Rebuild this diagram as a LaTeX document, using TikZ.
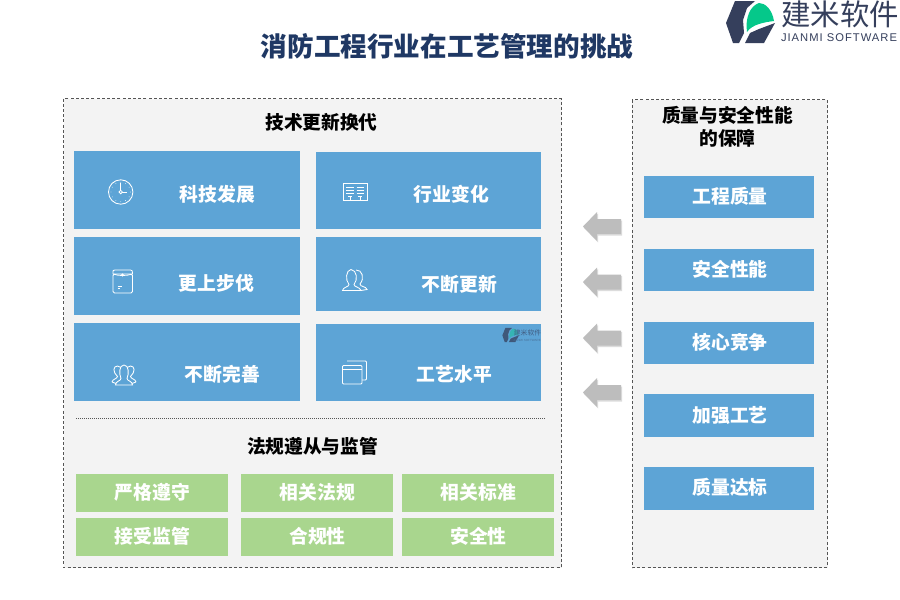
\documentclass[tikz,border=0pt]{standalone}
\usepackage{fontspec}
\setmainfont{Noto Sans CJK SC}
\newfontfamily\latinfont[LetterSpace=9]{Liberation Sans}
\newfontfamily\latinplain{Liberation Sans}
\usetikzlibrary{calc}
\definecolor{panelbg}{HTML}{F3F3F3}
\definecolor{boxblue}{HTML}{5DA4D6}
\definecolor{boxgreen}{HTML}{A9D68E}
\definecolor{titlenavy}{HTML}{1F3864}
\definecolor{logonavy}{HTML}{353F5C}
\definecolor{logogreen}{HTML}{05C88A}
\definecolor{arrowgray}{HTML}{BDBDBD}
\definecolor{arrowshade}{HTML}{DCDCDC}
\definecolor{dashgray}{HTML}{555555}
\tikzset{
  x=1pt,y=-1pt,
  panel/.style={draw=dashgray,dashed,fill=panelbg,line width=0.7pt,dash pattern=on 3pt off 2.2pt},
  card/.style={fill=boxblue,draw=none},
  greencard/.style={fill=boxgreen,draw=none},
  boxlabel/.style={text=white,font=\fontsize{18.8}{20}\selectfont\bfseries,inner sep=0pt,anchor=center},
  headlabel/.style={text=black,font=\fontsize{18.7}{23}\selectfont\bfseries,inner sep=0pt,align=center},
  icon/.style={draw=white,line width=0.85pt,fill=none},
  iconthin/.style={draw=white,line width=0.6pt,fill=none},
}
\newcommand{\leftarrowshape}[2]{%
  \fill[#1] (583,#2) -- (597,#2-14.5) -- (597,#2-7.5) -- (621,#2-7.5) -- (621,#2+7.5) -- (597,#2+7.5) -- (597,#2+14.5) -- cycle;}
\newcommand{\logomark}[3]{%
  \begin{scope}[shift={(#1,#2)},scale=#3]
  \fill[\logoA] (4,23) -- (13,1) -- (33,1) -- (25,8) -- (21,20) -- (22,33) -- (17,43) -- (11,43) -- cycle;
  \fill[\logoA] (23,43) -- (28,33) -- (37,29) -- (53,23) -- (42,43) -- cycle;
  \fill[\logoB] (25,32) .. controls (23,18) and (28,6) .. (37,3) .. controls (43,3) and (50,9) .. (52,21) .. controls (44,22) and (30,24) .. (25,32) -- cycle;
  \end{scope}}
\begin{document}
\begin{tikzpicture}
\useasboundingbox (0,0) rectangle (900,600);
\fill[white] (0,0) rectangle (900,600);
% title
\node[text=titlenavy,font=\fontsize{26.6}{28}\selectfont\bfseries,inner sep=0pt] (title) at (447,46) {消防工程行业在工艺管理的挑战};
% logo
\def\logoA{logonavy}\def\logoB{logogreen}
\logomark{722}{0}{1}
\node[text=logonavy,font=\fontsize{29.4}{30}\selectfont,inner sep=0pt] (logocn) at (840,14) {建米软件};
\node[text=logonavy,font=\latinfont\fontsize{11.2}{12}\selectfont,inner sep=0pt] (logoen) at (839,38) {JIANMI SOFTWARE};
% panels
\draw[panel] (63.5,98.5) rectangle (561.5,567.5);
\draw[panel] (632,99.5) rectangle (827.5,567.5);
\node[headlabel] (head1) at (321.5,122) {技术更新换代};
\node[headlabel] (head2) at (312.5,446) {法规遵从与监管};
\node[headlabel] (head3) at (727.5,127) {质量与安全性能\\的保障};
% blue cards
\fill[card] (74,151) rectangle (300,228.5);
\fill[card] (316,152) rectangle (541,229);
\fill[card] (74,237) rectangle (300,315);
\fill[card] (316,237) rectangle (541,311);
\fill[card] (74,323) rectangle (300,401);
\fill[card] (316,324) rectangle (541,401);
\node[boxlabel] (l1) at (217.5,194) {科技发展};
\node[boxlabel] (l2) at (451.5,194) {行业变化};
\node[boxlabel] (l3) at (216.5,283.5) {更上步伐};
\node[boxlabel] (l4) at (459.5,284) {不断更新};
\node[boxlabel] (l5) at (222.5,374) {不断完善};
\node[boxlabel] (l6) at (454.5,374) {工艺水平};
% clock icon
\draw[icon] (120.7,192) circle (12.2);
\draw[icon] (120.7,192) circle (1.7);
\draw[icon] (120.7,190) -- (120.7,182.5);
\draw[icon] (122.4,192) -- (127,192);
\foreach \a in {0,30,...,330}{\fill[white] ($(120.7,192)+(\a:9.7)$) circle (0.4);}
% envelope icon
\draw[icon,rounded corners=1.5pt] (113,274) rectangle (132.5,293);
\draw[icon] (113,274) .. controls (113,270) and (113,270) .. (115,270) -- (130.5,270) .. controls (132.5,270) and (132.5,271) .. (132.5,274) .. controls (126,276) and (119,276) .. (113,274);
\draw[icon] (122.5,275) circle (1);
\draw[iconthin] (117.5,286) -- (121.5,286) (117.5,288.5) -- (120,288.5);
% board icon
\draw[icon] (343,183.5) rectangle (367,200.5);
\draw[iconthin] (346,187) -- (353.5,187) (346,190) -- (353.5,190) (346,193) -- (353.5,193) (356.5,187) -- (364,187) (356.5,190) -- (364,190) (356.5,193) -- (364,193);
\draw[iconthin] (350,196.5) -- (350,200) (360,196.5) -- (360,200) (348,196.5) -- (352,196.5) (358,196.5) -- (362,196.5);
% two people icon
\draw[icon] (356,270) .. controls (362,269.5) and (365,278) .. (360,284) .. controls (360,287) and (366,286) .. (367,289.5) -- (361,290.5);
\draw[icon,fill=boxblue] (342.5,290.5) .. controls (343,287) and (349,287) .. (349,284.5) .. controls (345,280) and (346,270) .. (351,269.5) .. controls (357,270) and (358,280) .. (354,284.5) .. controls (354,287) and (360,287) .. (361,290.5) -- cycle;
% three people icon
\draw[icon] (112,382) .. controls (112.5,379) and (117,379) .. (117.5,376.5) .. controls (112.5,372) and (113,366) .. (117.5,366) .. controls (119,366) and (120,366.5) .. (121,367.5);
\draw[icon] (136,382) .. controls (135.5,379) and (131,379) .. (130.5,376.5) .. controls (135.5,372) and (135,366) .. (130.5,366) .. controls (129,366) and (128,366.5) .. (127,367.5);
\draw[icon] (112,382) -- (116,383.5) (136,382) -- (132,383.5);
\draw[icon,fill=boxblue] (115.5,385) .. controls (115.5,381) and (121,381) .. (121,378.5) .. controls (119,374) and (119,365) .. (124,365) .. controls (129,365) and (129,374) .. (127,378.5) .. controls (127,381) and (132.5,381) .. (132.5,385) -- cycle;
% windows icon
\draw[icon,rounded corners=1pt] (347,361) -- (366.5,361) -- (366.5,380) -- (362,380);
\draw[icon,rounded corners=1pt] (342.5,365.5) rectangle (362,384);
\draw[iconthin] (342.5,369.5) -- (362,369.5);
% watermark
\def\logoA{logonavy!75!boxblue}\def\logoB{logogreen!45!boxblue}
\logomark{501}{327.5}{0.34}
\node[text=logonavy!70!boxblue,font=\fontsize{6.8}{8}\selectfont,inner sep=0pt] (wmcn) at (527.5,333) {建米软件};
\node[text=logonavy!50!boxblue,font=\latinplain\fontsize{3}{3}\selectfont,inner sep=0pt] (wmen) at (527,340.5) {JIANMI SOFTWARE};
% dotted divider
\draw[dashgray,line width=0.7pt,dash pattern=on 1pt off 1pt] (76,418.5) -- (545,418.5);
% green cards
\fill[greencard] (76,474) rectangle (228,512);
\fill[greencard] (241,474) rectangle (393,512);
\fill[greencard] (402,474) rectangle (554,512);
\fill[greencard] (76,518) rectangle (228,556);
\fill[greencard] (241,518) rectangle (393,556);
\fill[greencard] (402,518) rectangle (554,556);
\node[boxlabel] (g1) at (152.5,492) {严格遵守};
\node[boxlabel] (g2) at (317.5,492) {相关法规};
\node[boxlabel] (g3) at (478.5,492) {相关标准};
\node[boxlabel] (g4) at (152.5,536) {接受监管};
\node[boxlabel] (g5) at (317.5,536) {合规性};
\node[boxlabel] (g6) at (478.5,536) {安全性};
% right cards
\fill[card] (644,176) rectangle (814,218);
\fill[card] (644,249) rectangle (814,291);
\fill[card] (644,322) rectangle (814,364);
\fill[card] (644,394) rectangle (814,437);
\fill[card] (644,467) rectangle (814,510);
\node[boxlabel] (r1) at (730,196) {工程质量};
\node[boxlabel] (r2) at (730,269) {安全性能};
\node[boxlabel] (r3) at (730,342) {核心竞争};
\node[boxlabel] (r4) at (730,415) {加强工艺};
\node[boxlabel] (r5) at (730,487.5) {质量达标};
% arrows
\foreach \yy in {226.5,282,338,392.5}{
  \begin{scope}[shift={(1,1.5)}]\leftarrowshape{arrowshade}{\yy}\end{scope}
  \leftarrowshape{arrowgray}{\yy}
}
\end{tikzpicture}
\end{document}
